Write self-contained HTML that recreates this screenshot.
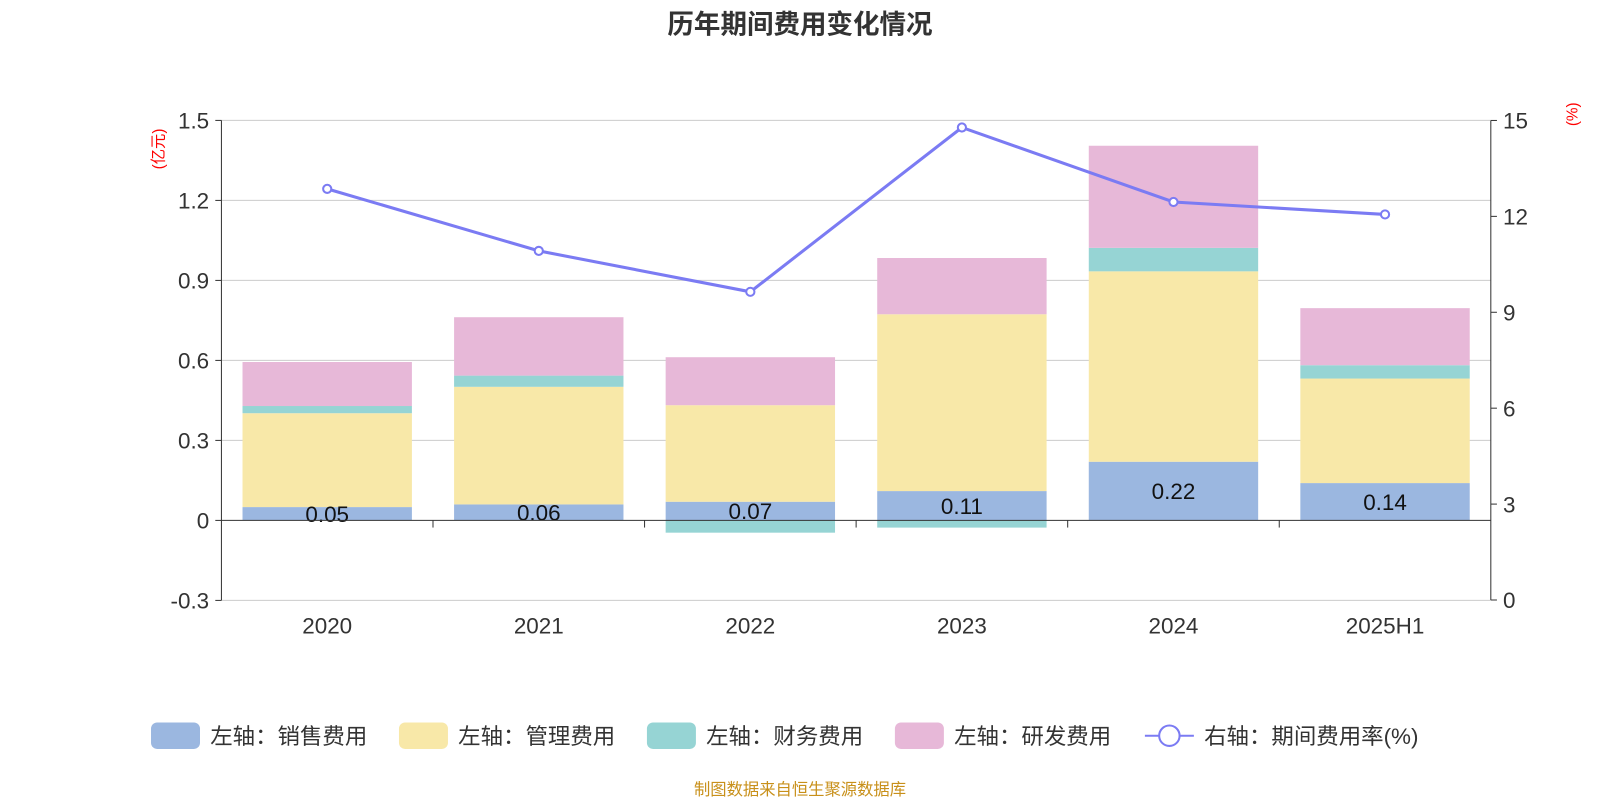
<!DOCTYPE html>
<html><head><meta charset="utf-8"><style>
body{margin:0;background:#fff;width:1600px;height:800px;overflow:hidden;font-family:"Liberation Sans","Noto Sans CJK SC",sans-serif}
</style></head><body>
<svg id="c" width="1600" height="800" viewBox="0 0 1568 784" xmlns="http://www.w3.org/2000/svg" font-family="Liberation Sans, Noto Sans CJK SC, sans-serif">
<text x="784" y="33" text-anchor="middle" font-size="26" font-weight="bold" fill="#333">历年期间费用变化情况</text>
<text transform="translate(160,146) rotate(-90)" text-anchor="middle" font-size="15" fill="red">(亿元)</text>
<text transform="translate(1546,112) rotate(-90)" text-anchor="middle" font-size="15" fill="red">(%)</text>
<g id="grid"></g><g id="bars"></g><g id="axes"></g><g id="line"></g>
<g id="legend"></g>
<text x="784" y="779" text-anchor="middle" font-size="16" fill="#c8901a">制图数据来自恒生聚源数据库</text>
</svg>
<script>
const categories=["2020","2021","2022","2023","2024","2025H1"];
const sales=[0.05,0.06,0.07,0.11,0.22,0.14];
const mgmt=[0.352,0.441,0.362,0.663,0.714,0.392];
const fin=[0.027,0.042,-0.046,-0.027,0.088,0.05];
const rd=[0.165,0.219,0.18,0.211,0.383,0.214];
const rate=[12.86,10.92,9.64,14.78,12.45,12.06];
const leftTicks=[-0.3,0,0.3,0.6,0.9,1.2,1.5];
const rightTicks=[0,3,6,9,12,15];
const NS="http://www.w3.org/2000/svg";
const X0=217,X1=1461,band=(X1-X0)/categories.length;
const yL=v=>510-v*261.33;
const yR=v=>588-v*31.33;
const xC=i=>X0+band*(i+0.5);
function el(t,a,p){const e=document.createElementNS(NS,t);for(const k in a)e.setAttribute(k,a[k]);document.getElementById(p).appendChild(e);return e;}
leftTicks.forEach(t=>{
 if(t!==0){const g=el('line',{x1:X0,x2:X1,y1:yL(t),y2:yL(t),stroke:'#ccc','stroke-width':1},'grid');
 
 }
 const l=el('text',{x:X0-12,y:yL(t)+8,'text-anchor':'end','font-size':22,fill:'#333'},'axes');l.textContent=String(t);
 
 
 el('line',{x1:X0-6,x2:X0,y1:yL(t),y2:yL(t),stroke:'#333'},'axes');
});
rightTicks.forEach(t=>{
 const l=el('text',{x:X1+12,y:yR(t)+8,'font-size':22,fill:'#333'},'axes');l.textContent=String(t);
 
 
 el('line',{x1:X1,x2:X1+6,y1:yR(t),y2:yR(t),stroke:'#333'},'axes');
});
el('line',{x1:X0,x2:X0,y1:yL(1.5),y2:yL(-0.3),stroke:'#333'},'axes');
el('line',{x1:X1,x2:X1,y1:yR(15),y2:yR(0),stroke:'#333'},'axes');
el('line',{x1:X0,x2:X1,y1:yL(0),y2:yL(0),stroke:'#333'},'axes');
const colors=['#9bb7e0','#f8e8a8','#96d4d4','#e7b8d8'];
const series=[sales,mgmt,fin,rd];const names=['sales','mgmt','finance','rd'];
const bw=166;
categories.forEach((c,i)=>{
 let pos=0,neg=0;
 series.forEach((s,k)=>{
  const v=s[i];let y0,y1;
  if(v>=0){y0=pos;pos+=v;y1=pos;}else{y0=neg;neg+=v;y1=neg;}
  const r=el('rect',{x:xC(i)-bw/2,y:Math.min(yL(y0),yL(y1)),width:bw,height:Math.abs(yL(y1)-yL(y0)),fill:colors[k]},'bars');
  
  
 });
 const t=el('text',{x:xC(i),y:(yL(0)+yL(sales[i]))/2+8,'text-anchor':'middle','font-size':22,fill:'#111'},'bars');t.textContent=sales[i].toFixed(2);
 
 
 const xl=el('text',{x:xC(i),y:621,'text-anchor':'middle','font-size':22,fill:'#333'},'axes');xl.textContent=c;
 
 
 if(i>0)el('line',{x1:X0+band*i,x2:X0+band*i,y1:510,y2:517,stroke:'#333'},'axes');
});
const pts=rate.map((v,i)=>xC(i)+','+yR(v)).join(' ');
const pl=el('polyline',{points:pts,fill:'none',stroke:'#7b7bf3','stroke-width':3},'line');


rate.forEach((v,i)=>{const p=el('circle',{cx:xC(i),cy:yR(v),r:4,fill:'#fff',stroke:'#7b7bf3','stroke-width':2},'line');
 
 });
const leg=[['左轴：销售费用',148],['左轴：管理费用',391],['左轴：财务费用',634],['左轴：研发费用',877]];
leg.forEach((l,k)=>{
 const r=el('rect',{x:l[1],y:708,width:48,height:26,rx:6,fill:colors[k]},'legend');
 
 
 const t=el('text',{x:l[1]+58,y:729,'font-size':22,fill:'#333'},'legend');t.textContent=l[0];
 
 
});
el('line',{x1:1122,x2:1170,y1:721,y2:721,stroke:'#7b7bf3','stroke-width':2},'legend');
el('circle',{cx:1146,cy:721,r:10,fill:'#fff',stroke:'#7b7bf3','stroke-width':2},'legend');
const lt=el('text',{x:1180,y:729,'font-size':22,fill:'#333'},'legend');lt.textContent='右轴：期间费用率(%)';


</script>
</body></html>
